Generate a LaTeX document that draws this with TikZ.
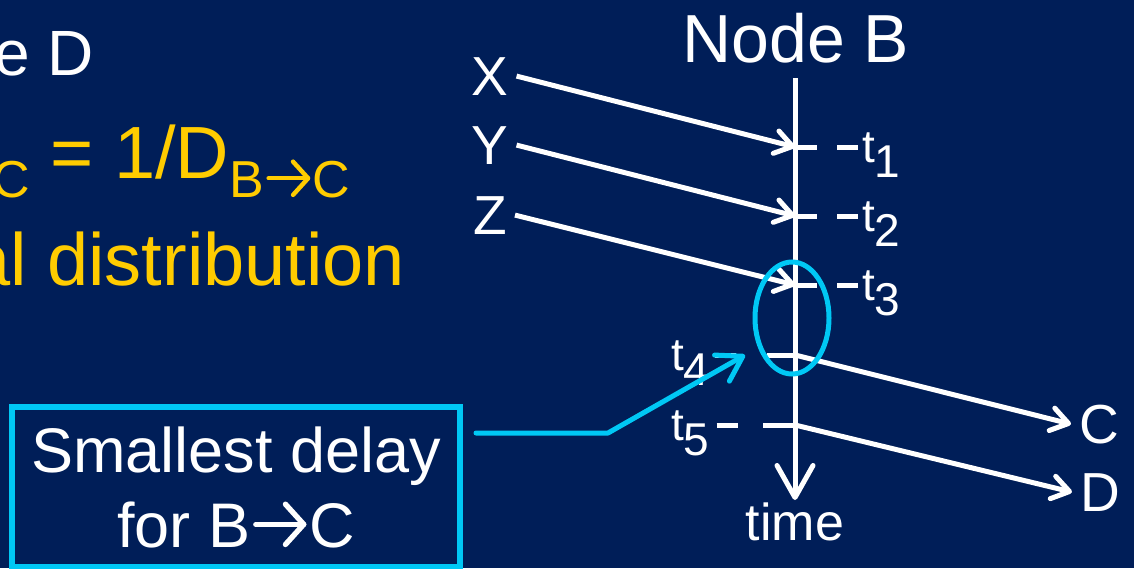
\documentclass[tikz,border=0pt]{standalone}
\usepackage{fontspec}
\setmainfont{Liberation Sans}
\usetikzlibrary{arrows.meta,shapes.geometric}
\definecolor{bg}{RGB}{0,30,88}
\definecolor{gold}{RGB}{255,204,0}
\definecolor{sky}{RGB}{0,200,245}
\newcommand{\myfs}[1]{\fontsize{#1}{#1}\selectfont}
\newcommand{\lowsub}[3]{\raisebox{-#2pt}{\myfs{#1}#3}}
\newcommand{\longdash}{\rule[12.5pt]{21pt}{4.5pt}}
% chevron arrow sized to the font size #1 (in pt)
\newcommand{\chev}[1]{\kern0.03em\tikz[x=#1pt,y=#1pt,baseline=0pt,line cap=round,line join=round]{%
  \useasboundingbox (0,0) rectangle (0.86,0.7);
  \draw[draw=.,line width=0.085*#1pt] (0.06,0.36) -- (0.82,0.36);
  \draw[draw=.,line width=0.085*#1pt] (0.53,0.68) -- (0.82,0.36) -- (0.53,0.04);}\kern0.05em}
\begin{document}
\begin{tikzpicture}[x=1pt,y=-1pt,
  lab/.style={text=white,inner xsep=8pt,inner ysep=0pt,anchor=base,font=\myfs{55}},
  ticklab/.style={text=white,inner sep=0pt,anchor=base west,font=\myfs{46}},
  wline/.style={white,line width=5pt},
  warrow/.style={white,line width=5pt,-{Straight Barb[length=17pt,width=23pt,round]}},
  axisarrow/.style={white,line width=5pt,-{Straight Barb[length=32pt,width=36pt,round]}},
  hilite/.style={draw=sky,line width=5pt},
  callout/.style={sky,line width=5pt,line cap=round,line join=round,-{Straight Barb[length=24pt,width=30pt,round]}}]
\fill[bg] (0,0) rectangle (1134,568);
\useasboundingbox (0,0) rectangle (1134,568);

% left text
\node[anchor=base east,inner sep=0pt,text=white,font=\myfs{64}] (tD) at (94,75) {e D};
\node[anchor=base west,inner sep=0pt,text=gold,font=\myfs{74}] (tRate) at (-8,178) {\lowsub{52}{19}{C} = 1/D\lowsub{52}{19}{B\chev{52}C}};
\node[anchor=base west,inner sep=0pt,text=gold,font=\myfs{74}] (tDist) at (-31,285) {al distribution};

% node B time line
\node[anchor=base,inner sep=0pt,text=white,font=\myfs{68}] (nodeB) at (796,62) {Node B};
\coordinate (top) at (795,78);
\coordinate (bot) at (795,500);
\draw[axisarrow] (top) -- (bot);
\node[anchor=base,inner sep=0pt,text=white,font=\myfs{52}] (time) at (795,540) {time};

\coordinate (t1) at (795,147);
\coordinate (t2) at (795,216);
\coordinate (t3) at (795,285);
\coordinate (t4) at (795,355);
\coordinate (t5) at (795,425);

% ticks
\draw[wline] (t1) -- ++(22,0);
\draw[wline] (t2) -- ++(22,0);
\draw[wline] (t3) -- ++(22,0);
\draw[wline] (t4) -- ++(-28,0);
\draw[wline] (t5) -- ++(-32,0);

% tick labels
\node[ticklab] (l1) at (837,162) {\longdash\kern4pt t\lowsub{46}{15}{1}};
\node[ticklab] (l2) at (837,231) {\longdash\kern4pt t\lowsub{46}{15}{2}};
\node[ticklab] (l3) at (837,300) {\longdash\kern4pt t\lowsub{46}{15}{3}};
\node[ticklab] (l4) at (671,370) {t\lowsub{46}{15}{4}\kern5pt\longdash};
\node[ticklab] (l5) at (671,440) {t\lowsub{46}{15}{5}\kern7pt\longdash};

% senders and receivers
\node[lab] (X) at (490,95) {X};
\node[lab] (Y) at (490,164) {Y};
\node[lab] (Z) at (490,234) {Z};
\node[lab] (C) at (1099,443) {C};
\node[lab] (D) at (1100,511) {D};

\draw[warrow] (X.east) -- (t1);
\draw[warrow] (Y.east) -- (t2);
\draw[warrow] (Z.east) -- (t3);
\draw[warrow] (t4) -- (C.west);
\draw[warrow] (t5) -- (D.west);

% highlight
\node[hilite,ellipse,minimum width=74pt,minimum height=112pt,inner sep=0pt] (ring) at (792,318) {};

\node[draw=sky,line width=6pt,minimum width=448pt,minimum height=160pt,align=center,
      text=white,font=\fontsize{63}{75}\selectfont,inner sep=0pt] (note) at (236,487) {Smallest delay\\for B\chev{63}C};
\coordinate (bend) at (608,433);
\coordinate (ptr) at (745,355);
\draw[callout] ([xshift=13pt]note.east |- bend) -- (bend) -- (ptr);
\end{tikzpicture}
\end{document}
